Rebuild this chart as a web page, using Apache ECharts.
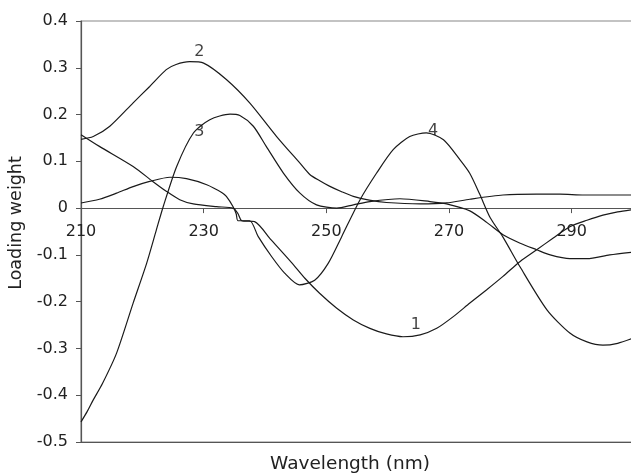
<!DOCTYPE html>
<html>
<head>
<meta charset="utf-8">
<script src="https://cdn.jsdelivr.net/npm/echarts@6/dist/echarts.min.js"></script>
<style>
html,body{margin:0;padding:0;background:#fff;}
#chart{width:631px;height:473px;}
</style>
</head>
<body>
<div id="chart"></div>
<script>
// Wavelength (nm) / loading weight
var c1x = [210, 213, 218.5, 221.7, 223.9, 226.1, 228.3, 232.1, 234.8, 235.6, 236.2, 238.3, 241, 244.3, 246.5, 248.9, 251.7, 254.4, 257.1, 259.8, 262.5, 265.3, 268, 270.7, 273.4, 276.1, 278.8, 281.6, 284.3, 287, 289.7, 292.5, 295.1, 297.5, 300];
var c1y = [0.157, 0.132, 0.089, 0.057, 0.036, 0.018, 0.009, 0.003, 0.0, -0.012, -0.027, -0.029, -0.068, -0.116, -0.150, -0.182, -0.214, -0.239, -0.257, -0.269, -0.275, -0.271, -0.257, -0.232, -0.203, -0.175, -0.146, -0.114, -0.089, -0.064, -0.040, -0.026, -0.015, -0.008, -0.003];

var c2x = [210, 212, 214.7, 218.5, 221.2, 223.9, 225.5, 227.7, 230, 233.7, 237.5, 241.9, 245.7, 247.3, 249, 250.5, 252.5, 254.4, 257, 259.8, 265.3, 269.6, 273.4, 278.8, 284.3, 288.1, 292, 300];
var c2y = [0.147, 0.153, 0.175, 0.225, 0.260, 0.296, 0.307, 0.313, 0.310, 0.275, 0.225, 0.153, 0.096, 0.072, 0.058, 0.047, 0.035, 0.025, 0.017, 0.012, 0.009, 0.011, 0.019, 0.028, 0.030, 0.030, 0.028, 0.028];

var c3x = [210, 211, 212, 213.5, 215.8, 218.5, 220.7, 222.3, 223.4, 225.6, 228.3, 231, 234.3, 235.9, 238.1, 240.2, 243, 245.7, 248.4, 251.7, 254.4, 257.1, 262, 266.9, 269.6, 273.4, 276.2, 278.8, 281.6, 284.3, 286.5, 289.7, 292.5, 296.2, 300];
var c3y = [-0.457, -0.435, -0.410, -0.375, -0.310, -0.203, -0.118, -0.046, 0.003, 0.089, 0.160, 0.189, 0.201, 0.198, 0.175, 0.132, 0.075, 0.032, 0.007, 0.0, 0.007, 0.014, 0.020, 0.014, 0.009, -0.006, -0.031, -0.057, -0.075, -0.089, -0.100, -0.108, -0.108, -0.100, -0.094];

var c4x = [210, 213, 215.8, 218.5, 221.2, 224.5, 227.2, 230.5, 233, 233.7, 234.8, 235.3, 235.6, 237.5, 238.9, 241.1, 243.2, 245.6, 248.1, 250.3, 252.5, 255.5, 258.2, 260.9, 263.6, 266.3, 269.1, 271.8, 273.4, 275, 276.7, 278.8, 281.6, 286, 289.7, 292.5, 295.1, 297.5, 300];
var c4y = [0.011, 0.019, 0.032, 0.046, 0.057, 0.066, 0.063, 0.050, 0.033, 0.025, 0.003, -0.012, -0.027, -0.027, -0.061, -0.104, -0.139, -0.164, -0.154, -0.118, -0.061, 0.018, 0.075, 0.125, 0.153, 0.161, 0.146, 0.103, 0.074, 0.030, -0.020, -0.062, -0.126, -0.218, -0.267, -0.286, -0.293, -0.289, -0.278];

var curveNames = ['1', '2', '3', '4'];
var labelX = [264.6, 229.3, 229.3, 267.4];
var labelY = [-0.250, 0.335, 0.162, 0.165];

var xTitle = 'Wavelength (nm)';
var yTitle = 'Loading weight';

function zip(xs, ys) { return xs.map(function (x, i) { return [x, ys[i]]; }); }

var FONT = 'DejaVu Sans';
var W = 631, H = 473;
var GRID = { left: 81, right: -2, top: 21, bottom: 31 };
var Y_MIN = -0.5, Y_MAX = 0.4;
// distance (px) from the top of the plot down to the y = 0 line
var gridH = H - GRID.top - GRID.bottom;
var zeroFromTop = gridH * (Y_MAX - 0) / (Y_MAX - Y_MIN);

var lineStyle = { color: '#1a1a1a', width: 1.2 };

var curves = [zip(c1x, c1y), zip(c2x, c2y), zip(c3x, c3y), zip(c4x, c4y)];
var series = curves.map(function (d, i) {
  return {
    name: 'PC' + curveNames[i], type: 'line', data: d, showSymbol: false, symbol: 'none',
    smooth: 0.25, lineStyle: lineStyle, silent: true, z: 3, clip: true
  };
});
series.push({
  type: 'scatter', silent: true, symbolSize: 0, z: 5,
  data: curveNames.map(function (n, i) { return { name: n, value: [labelX[i], labelY[i]] }; }),
  label: { show: true, position: 'inside', formatter: function (p) { return p.name; },
           color: '#111', fontFamily: FONT, fontSize: 16 }
});

var chart = echarts.init(document.getElementById('chart'), null, { renderer: 'canvas' });
chart.setOption({
  animation: false,
  backgroundColor: '#fff',
  grid: { left: GRID.left, right: GRID.right, top: GRID.top, bottom: GRID.bottom,
          containLabel: false, outerBoundsMode: 'none',
          show: true, borderColor: '#888', borderWidth: 1.2, backgroundColor: 'transparent' },
  xAxis: [
    {
      // axis drawn across the plot at y = 0, labels hanging below it
      type: 'value', min: 210, max: 300, interval: 20, position: 'top', offset: -zeroFromTop,
      axisLine: { show: true, onZero: false, lineStyle: { color: '#555', width: 1.2 } },
      axisTick: { show: true, length: 5, inside: true, lineStyle: { color: '#555' } },
      axisLabel: { show: true, inside: true, margin: 16, showMaxLabel: false,
                   color: '#222', fontFamily: FONT, fontSize: 16 },
      splitLine: { show: false }
    },
    {
      type: 'value', min: 210, max: 300, position: 'bottom',
      axisLine: { show: true, onZero: false, lineStyle: { color: '#555', width: 1.2 } },
      axisTick: { show: false }, axisLabel: { show: false }, splitLine: { show: false },
      name: xTitle, nameLocation: 'middle', nameGap: 13,
      nameTextStyle: { color: '#222', fontFamily: FONT, fontSize: 18.5, padding: [0, 14, 0, 0] }
    }
  ],
  yAxis: {
    type: 'value', min: Y_MIN, max: Y_MAX, interval: 0.1,
    axisLine: { show: true, onZero: false, lineStyle: { color: '#555', width: 1.2 } },
    axisTick: { show: true, length: 5, inside: false, lineStyle: { color: '#555' } },
    axisLabel: { margin: 13, color: '#222', fontFamily: FONT, fontSize: 16 },
    splitLine: { show: false },
    name: yTitle, nameLocation: 'middle', nameGap: 44,
    nameTextStyle: { color: '#222', fontFamily: FONT, fontSize: 17.5, padding: [0, 0, 0, 17] }
  },
  series: series
});
</script>
</body>
</html>
